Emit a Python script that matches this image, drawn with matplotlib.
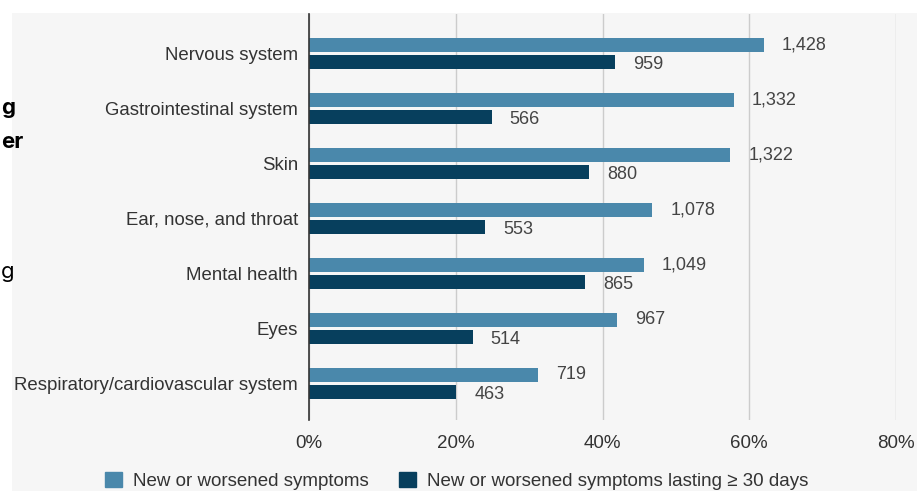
import matplotlib.pyplot as plt
from matplotlib.patches import Rectangle

plt.rcParams["font.family"] = ["Liberation Sans", "DejaVu Sans"]

categories = ["Nervous system", "Gastrointestinal system", "Skin",
              "Ear, nose, and throat", "Mental health", "Eyes",
              "Respiratory/cardiovascular system"]
new_counts = [1428, 1332, 1322, 1078, 1049, 967, 719]
new_pct = [62.0, 57.9, 57.4, 46.8, 45.6, 42.0, 31.2]
long_counts = [959, 566, 880, 553, 865, 514, 463]
long_pct = [41.7, 24.9, 38.2, 24.0, 37.6, 22.3, 20.1]
xticks = [0, 20, 40, 60, 80]

light = "#4a88ab"
dark = "#073f5d"
bg = "#f6f6f6"

W, H = 924, 491
fig = plt.figure(figsize=(W / 100, H / 100), dpi=100, facecolor="white")
fig.patches.append(Rectangle((12 / W, 0), 905 / W, 1 - 13 / H, transform=fig.transFigure,
                             facecolor=bg, edgecolor="none", zorder=-5))

ax = fig.add_axes([309 / W, 1 - 420 / H, (896 - 309) / W, (420 - 14) / H])
ax.set_facecolor("none")

y = list(range(len(categories)))
h = 0.265
off = 0.155
ax.barh([v - off for v in y], new_pct, height=h, color=light, zorder=3)
ax.barh([v + off for v in y], long_pct, height=h, color=dark, zorder=3)

for i in y:
    ax.annotate(f"{new_counts[i]:,}", (new_pct[i], i - off), xytext=(13, 0),
                textcoords="offset points", va="center", ha="left",
                fontsize=13, color="#444444")
    ax.annotate(f"{long_counts[i]:,}", (long_pct[i], i + off + 0.04), xytext=(13, 0),
                textcoords="offset points", va="center", ha="left",
                fontsize=13, color="#444444")

ax.set_xlim(0, 80)
ax.set_ylim(6 + 0.664, -0.718)
ax.set_yticks(y)
ax.set_yticklabels(categories, fontsize=13.4, color="#333333")
ax.tick_params(axis="y", length=0, pad=8)
ax.set_xticks(xticks)
ax.set_xticklabels([f"{t}%" for t in xticks], fontsize=13.5, color="#333333")
ax.tick_params(axis="x", length=0, pad=11)
ax.grid(axis="x", color="#cccccc", linewidth=1, zorder=1)
for s in ["top", "right", "bottom"]:
    ax.spines[s].set_visible(False)
ax.spines["left"].set_color("#333333")
ax.spines["left"].set_linewidth(1.2)
ax.spines["left"].set_zorder(4)

handles = [Rectangle((0, 0), 1, 1, color=light), Rectangle((0, 0), 1, 1, color=dark)]
fig.legend(handles, ["New or worsened symptoms", "New or worsened symptoms lasting \u2265 30 days"],
           loc="center", bbox_to_anchor=(457 / W, 1 - 481 / H), ncol=2, frameon=False,
           fontsize=13.5, handlelength=0.9, handleheight=0.9, handletextpad=0.6,
           columnspacing=1.6, labelcolor="#333333")

# cropped headline fragments at the left edge
fig.text(1 / W, 1 - 108 / H, "g", fontsize=16, fontweight="bold", va="center", ha="left",
         family="Inter")
fig.text(1 / W, 1 - 142 / H, "er", fontsize=16, fontweight="bold", va="center", ha="left",
         family="Inter")
fig.text(1 / W, 1 - 272 / H, "g", fontsize=16, va="center", ha="left", family="Inter")

fig.savefig("out.png", dpi=100, facecolor="white")
